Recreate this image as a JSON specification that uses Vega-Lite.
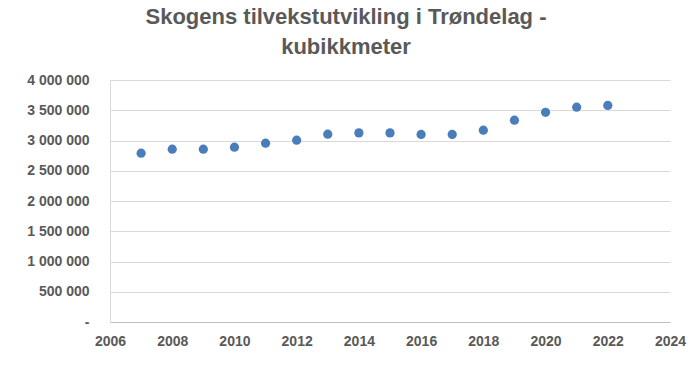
{
  "$schema": "https://vega.github.io/schema/vega-lite/v6.json",
  "width": 560,
  "height": 242,
  "autosize": {"type": "none"},
  "padding": {"left": 110, "top": 80, "right": 22, "bottom": 53},
  "background": "white",
  "title": {
    "text": ["Skogens tilvekstutvikling i Trøndelag -", "kubikkmeter"],
    "font": "Liberation Sans",
    "fontSize": 22,
    "fontWeight": "bold",
    "color": "#595959",
    "anchor": "middle",
    "dx": -44,
    "offset": 14,
    "lineHeight": 30
  },
  "config": {"view": {"stroke": null}},
  "data": {
    "values": [
      {"year": 2007, "volume": 2790000},
      {"year": 2008, "volume": 2856000},
      {"year": 2009, "volume": 2856000},
      {"year": 2010, "volume": 2890000},
      {"year": 2011, "volume": 2956000},
      {"year": 2012, "volume": 3005000},
      {"year": 2013, "volume": 3104000},
      {"year": 2014, "volume": 3126000},
      {"year": 2015, "volume": 3126000},
      {"year": 2016, "volume": 3100000},
      {"year": 2017, "volume": 3100000},
      {"year": 2018, "volume": 3170000},
      {"year": 2019, "volume": 3335000},
      {"year": 2020, "volume": 3466000},
      {"year": 2021, "volume": 3550000},
      {"year": 2022, "volume": 3580000}
    ]
  },
  "mark": {"type": "point", "filled": true, "color": "#4a7ebb", "size": 85, "opacity": 1},
  "encoding": {
    "x": {
      "field": "year",
      "type": "quantitative",
      "scale": {"domain": [2006, 2024], "nice": false, "zero": false},
      "axis": {
        "title": null,
        "values": [2006, 2008, 2010, 2012, 2014, 2016, 2018, 2020, 2022, 2024],
        "format": "d",
        "grid": false,
        "ticks": false,
        "labelFlush": false,
        "domainColor": "#bfbfbf",
        "labelFont": "Liberation Sans",
        "labelFontSize": 14,
        "labelFontWeight": "bold",
        "labelColor": "#595959",
        "labelPadding": 12
      }
    },
    "y": {
      "field": "volume",
      "type": "quantitative",
      "scale": {"domain": [0, 4000000], "nice": false},
      "axis": {
        "title": null,
        "values": [0, 500000, 1000000, 1500000, 2000000, 2500000, 3000000, 3500000, 4000000],
        "labelExpr": "datum.value == 0 ? '-' : replace(format(datum.value, ',d'), regexp(',', 'g'), ' ')",
        "grid": true,
        "gridColor": "#d9d9d9",
        "ticks": false,
        "domain": true,
        "domainColor": "#d9d9d9",
        "labelFlush": false,
        "labelFont": "Liberation Sans",
        "labelFontSize": 14,
        "labelFontWeight": "bold",
        "labelColor": "#595959",
        "labelPadding": 21
      }
    }
  }
}
